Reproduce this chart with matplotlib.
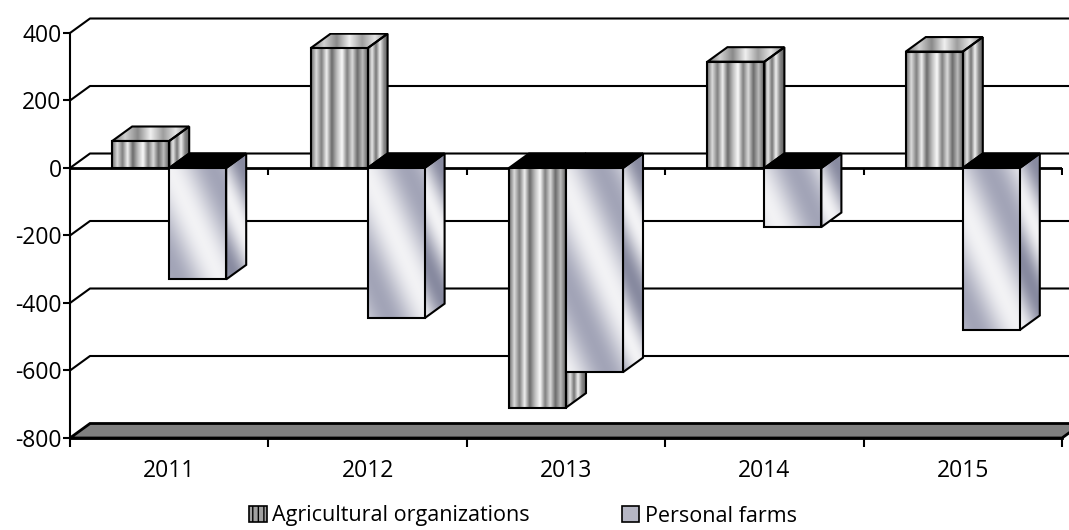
import numpy as np
import matplotlib
matplotlib.use('Agg')
import matplotlib.pyplot as plt
from matplotlib.patches import Polygon, Patch

# ---------------- data ----------------
years = ['2011', '2012', '2013', '2014', '2015']
agricultural_organizations = [80, 355, -710, 315, 345]
personal_farms = [-330, -445, -605, -175, -480]
y_ticks = [-800, -600, -400, -200, 0, 200, 400]
series_names = ['Agricultural organizations', 'Personal farms']

plt.rcParams['font.family'] = ['Open Sans', 'DejaVu Sans']
plt.rcParams['axes.unicode_minus'] = False
plt.rcParams['hatch.linewidth'] = 1.0

W, H = 1069, 530
fig = plt.figure(figsize=(W / 100, H / 100), dpi=100)
ax = fig.add_axes([70 / W, (H - 438) / H, 992 / W, 405 / H])
ymin, ymax = y_ticks[0], y_ticks[-1]
ncat = len(years)

px_x = 992 / ncat            # pixels per category
px_y = 405 / (ymax - ymin)   # pixels per value unit
DX = 20 / px_x               # depth offset (x)
DY = 14.5 / px_y             # depth offset (y)
BW = 57 / px_x               # bar width

AG_DARK = np.array([0.18, 0.18, 0.18])
AG_LIGHT = np.array([0.98, 0.98, 0.98])
PF_DARK = np.array([0.56, 0.57, 0.66])
PF_LIGHT = np.array([0.95, 0.95, 0.96])


def stripes(ctrl, dark, light, n=120):
    pos = np.linspace(0, 1, len(ctrl))
    t = np.linspace(0, 1, n)
    v = np.interp(t, pos, ctrl)
    col = dark[None, :] * (1 - v[:, None]) + light[None, :] * v[:, None]
    return np.repeat(col[None, :, :], 2, axis=0)


def diagonal(wpx, hpx, dark, light, phase=0.0, period=85.0, base=0.6):
    wpx = max(int(wpx), 2)
    hpx = max(int(hpx), 2)
    xs = np.arange(wpx)[None, :]
    ys = np.arange(hpx)[:, None]
    t = (xs - 0.45 * ys) / period + phase
    v = base + (1 - base) * np.cos(2 * np.pi * t)
    v = np.clip(v, 0, 1)
    return dark[None, None, :] * (1 - v[..., None]) + light[None, None, :] * v[..., None]


AG_FRONT = [0.3, 0.85, 0.4, 0.95, 0.3, 0.7, 1.0, 0.4, 0.85, 0.3, 0.7, 0.25]
AG_SIDE = [0.3, 0.9, 0.35, 0.95, 0.45, 0.25]
AG_TOP = [0.35, 0.8, 0.45, 0.95, 0.55, 0.9, 0.4]


def face(verts, img, z):
    poly = Polygon(verts, closed=True, facecolor='none', edgecolor='black',
                   lw=1.5, zorder=z + 0.5, joinstyle='miter')
    ax.add_patch(poly)
    xs = [p[0] for p in verts]
    ys = [p[1] for p in verts]
    im = ax.imshow(img, extent=[min(xs), max(xs), min(ys), max(ys)],
                   origin='upper', aspect='auto', interpolation='bilinear',
                   zorder=z)
    im.set_clip_path(poly)


def solid(verts, color, z):
    ax.add_patch(Polygon(verts, closed=True, facecolor=color, edgecolor='black',
                         lw=1.5, zorder=z + 0.5, joinstyle='miter'))


# back wall gridlines
for v in y_ticks[1:]:
    ax.plot([0, DX, ncat + DX + 0.3], [v, v + DY, v + DY], color='black',
            lw=1.5, clip_on=False, zorder=1)

# floor
ax.add_patch(Polygon([(0, ymin), (ncat, ymin), (ncat + DX, ymin + DY), (DX, ymin + DY)],
                     closed=True, facecolor='#808080', edgecolor='black', lw=2,
                     clip_on=False, zorder=1.5, joinstyle='miter'))

# front zero line with category ticks
ax.plot([0, ncat], [0, 0], color='black', lw=2, zorder=2, solid_capstyle='butt')
ax.plot(np.arange(1, ncat + 1), np.zeros(ncat), ls='none', marker=3, ms=5,
        mew=1.5, color='black', zorder=2)

# bars
z = 3
for i in range(ncat):
    for s, vals in enumerate([agricultural_organizations, personal_farms]):
        v = vals[i]
        x0 = i + 0.5 + (s - 1) * BW
        x1 = x0 + BW
        lo, hi = min(0, v), max(0, v)
        hpx = (hi - lo) * px_y
        side = [(x1, lo), (x1 + DX, lo + DY), (x1 + DX, hi + DY), (x1, hi)]
        top = [(x0, hi), (x1, hi), (x1 + DX, hi + DY), (x0 + DX, hi + DY)]
        front = [(x0, lo), (x1, lo), (x1, hi), (x0, hi)]
        if s == 0:
            face(side, stripes(AG_SIDE, AG_DARK, AG_LIGHT), z)
            if v >= 0:
                face(top, stripes(AG_TOP, AG_DARK, AG_LIGHT), z)
            else:
                solid(top, 'black', z)
            face(front, stripes(AG_FRONT, AG_DARK, AG_LIGHT), z + 1)
        else:
            face(side, diagonal(20, hpx + 15, PF_DARK * 0.95, PF_LIGHT, phase=0.3,
                                period=60, base=0.5), z)
            solid(top, 'black', z)
            face(front, diagonal(57, hpx, PF_DARK, PF_LIGHT, phase=0.05 * i,
                                 period=85, base=0.6), z + 1)
        z += 2

# axes styling
ax.set_xlim(0, ncat)
ax.set_ylim(ymin, ymax)
ax.set_yticks(y_ticks)
ax.set_yticklabels([str(v) for v in y_ticks])
ax.set_xticks(np.arange(ncat + 1))
ax.set_xticklabels([])
ax.set_xticks(np.arange(ncat) + 0.5, minor=True)
ax.set_xticklabels(years, minor=True)
ax.tick_params(axis='y', direction='out', length=5, width=1.5, pad=1,
               labelsize=16.5, colors='black')
ax.tick_params(axis='x', which='major', direction='out', length=6.5, width=1.5)
ax.tick_params(axis='x', which='minor', length=0, pad=15, labelsize=16.5)
for sp in ['top', 'right']:
    ax.spines[sp].set_visible(False)
ax.spines['left'].set_linewidth(1.5)
ax.spines['bottom'].set_linewidth(2)
ax.spines['left'].set_zorder(2)
ax.patch.set_visible(False)

handles = [
    Patch(facecolor='#a0a0a0', edgecolor='black', hatch='|||', lw=1.2),
    Patch(facecolor='#b5b6c4', edgecolor='black', lw=1.2),
]
fig.legend(handles, series_names, loc='center', ncol=2, frameon=False,
           bbox_to_anchor=(523 / W, 14 / H), fontsize=15.5, handlelength=0.8,
           handleheight=0.75, handletextpad=0.25, columnspacing=4.3, borderpad=0)

fig.savefig('out.png', dpi=100)
